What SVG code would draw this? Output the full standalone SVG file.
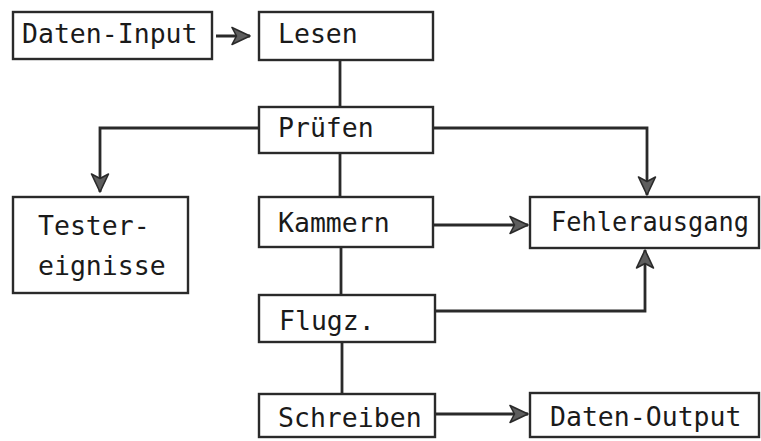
<svg xmlns="http://www.w3.org/2000/svg" width="761" height="441" viewBox="0 0 761 441">
  <style>
    .box { fill: #ffffff; stroke: #2a2a2a; stroke-width: 2.4; }
    .lbl { font-family: "DejaVu Sans Mono", "Liberation Mono", monospace; font-size: 26.5px; fill: #1a1a1a; }
    .wire { fill: none; stroke: #2a2a2a; stroke-width: 2.8; }
    .flow { fill: none; stroke: #2a2a2a; stroke-width: 2.8; marker-end: url(#head); }
  </style>
  <defs>
    <marker id="head" markerUnits="userSpaceOnUse" markerWidth="24" markerHeight="22" refX="19" refY="10" orient="auto">
      <path d="M1,1.5 L19,10 L1,18.5 L5.5,10 Z" fill="#5e5e5e" stroke="#2a2a2a" stroke-width="1.6" stroke-linejoin="round"/>
    </marker>
  </defs>

  <rect width="761" height="441" fill="#ffffff"/>

  <g id="connectors">
    <path class="flow" d="M216,36 L250,36"/>
    <path class="wire" d="M340,60 L340,107"/>
    <path class="flow" d="M259,128 L100,128 L100,192"/>
    <path class="flow" d="M433,128 L647,128 L647,195"/>
    <path class="wire" d="M340,153 L340,197"/>
    <path class="flow" d="M433,225 L528,225"/>
    <path class="wire" d="M341,247 L341,295"/>
    <path class="flow" d="M435,311 L645,311 L645,250"/>
    <path class="wire" d="M342,342 L342,394"/>
    <path class="flow" d="M435,414 L528,414"/>
  </g>

  <g id="daten-input">
    <rect class="box" x="13" y="12" width="199" height="47"/>
    <text class="lbl" x="22" y="43">Daten-Input</text>
  </g>
  <g id="lesen">
    <rect class="box" x="259" y="12" width="174" height="48"/>
    <text class="lbl" x="278" y="43">Lesen</text>
  </g>
  <g id="pruefen">
    <rect class="box" x="259" y="107" width="174" height="46"/>
    <text class="lbl" x="278" y="137">Prüfen</text>
  </g>
  <g id="testereignisse">
    <rect class="box" x="13" y="197" width="175" height="96"/>
    <text class="lbl" x="38" y="235">Tester-</text>
    <text class="lbl" x="38" y="275">eignisse</text>
  </g>
  <g id="kammern">
    <rect class="box" x="259" y="197" width="174" height="50"/>
    <text class="lbl" x="278" y="232">Kammern</text>
  </g>
  <g id="fehlerausgang">
    <rect class="box" x="530" y="197" width="229" height="51"/>
    <text class="lbl" x="551" y="231" textLength="198" lengthAdjust="spacingAndGlyphs">Fehlerausgang</text>
  </g>
  <g id="flugz">
    <rect class="box" x="259" y="295" width="176" height="47"/>
    <text class="lbl" x="279" y="330">Flugz.</text>
  </g>
  <g id="schreiben">
    <rect class="box" x="259" y="394" width="176" height="43"/>
    <text class="lbl" x="278" y="427">Schreiben</text>
  </g>
  <g id="daten-output">
    <rect class="box" x="530" y="393" width="229" height="44"/>
    <text class="lbl" x="550" y="426">Daten-Output</text>
  </g>
</svg>
